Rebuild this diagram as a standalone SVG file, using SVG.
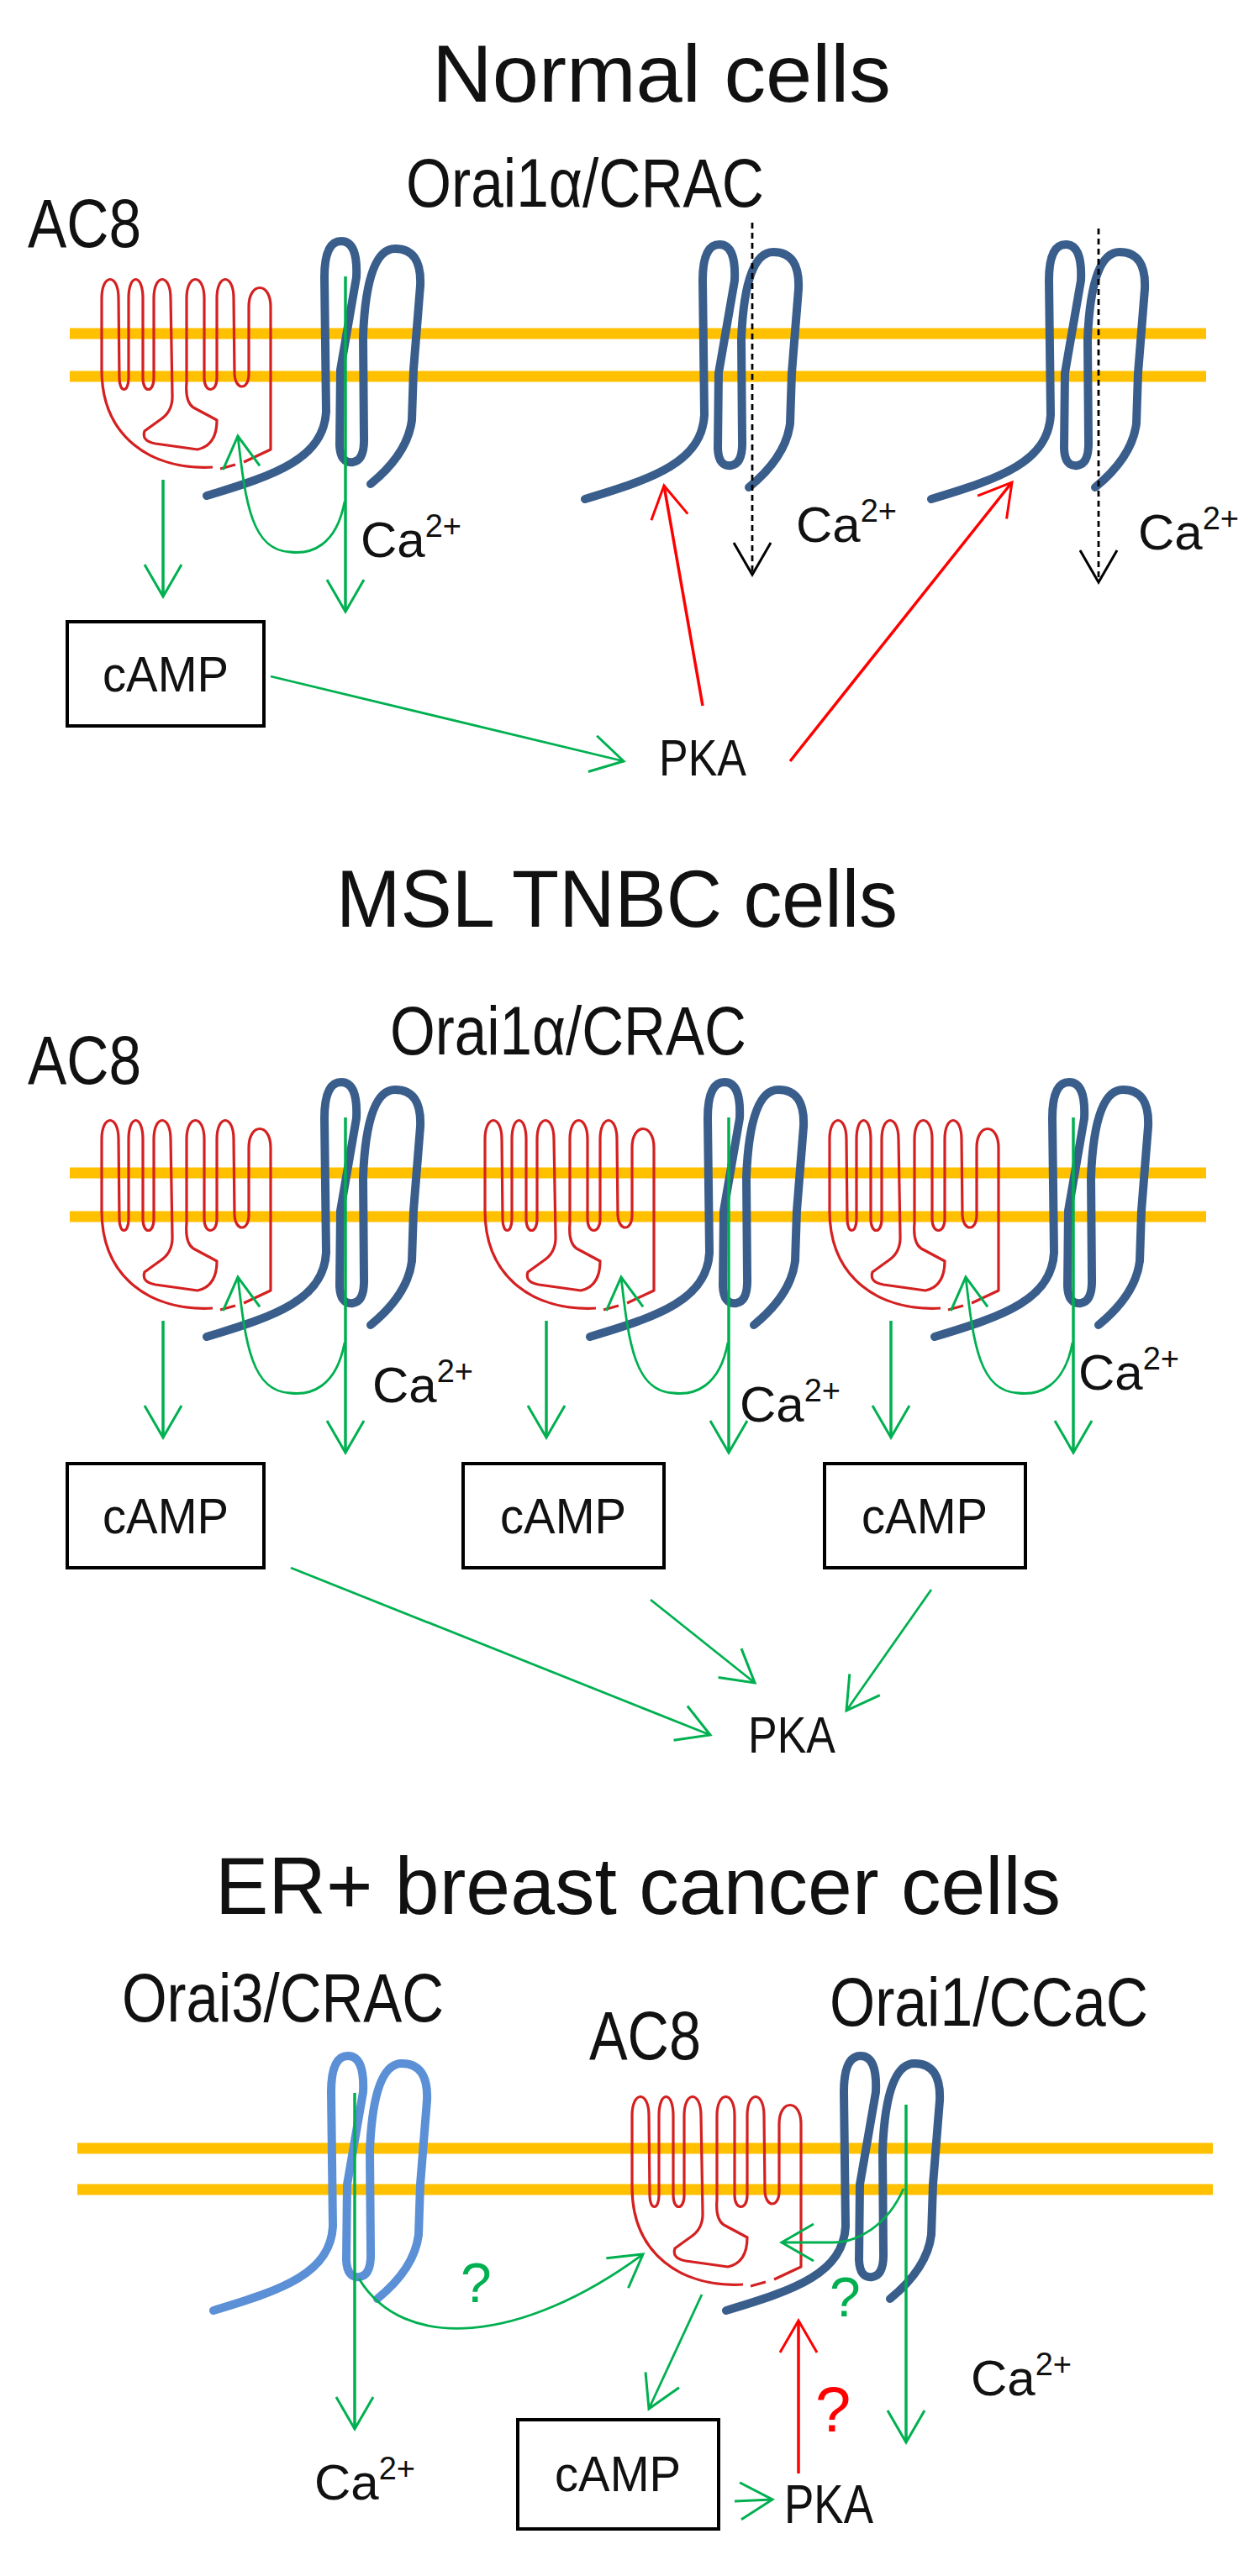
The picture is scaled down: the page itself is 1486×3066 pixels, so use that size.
<svg xmlns="http://www.w3.org/2000/svg" xmlns:xlink="http://www.w3.org/1999/xlink" width="1486" height="3066" viewBox="0 0 1486 3066">
<style>
.t{font-family:"Liberation Sans",Arial,sans-serif;fill:#111}
.title{font-size:96px}
.lab{font-size:82px}
.mem{stroke:#FFC000;stroke-width:13;fill:none}
.g{stroke:#00B050;stroke-width:3.5;fill:none}
.gt{stroke:#00B050;stroke-width:2.8;fill:none}
.r{stroke:#FF0000;stroke-width:3.5;fill:none}
.k{stroke:#000;stroke-width:2.8;fill:none;stroke-dasharray:7 5}
.box{fill:#fff;stroke:#000;stroke-width:4}
.ac8{stroke:#D42020;stroke-width:3.2;fill:none;stroke-linejoin:round}
.dk{stroke:#3A5E8C;stroke-width:10;fill:none;stroke-linecap:round;stroke-linejoin:round}
.lt{stroke:#5B8FD6;stroke-width:10;fill:none;stroke-linecap:round;stroke-linejoin:round}
</style>
<defs>
<marker id="ag" markerUnits="userSpaceOnUse" markerWidth="60" markerHeight="60" refX="0" refY="0" viewBox="-45 -30 50 60" orient="auto" overflow="visible"><path d="M-38,-22 L0,0 L-38,22" fill="none" stroke="#00B050" stroke-width="3"/></marker>
<marker id="ar" markerUnits="userSpaceOnUse" markerWidth="60" markerHeight="60" refX="0" refY="0" viewBox="-45 -30 50 60" orient="auto" overflow="visible"><path d="M-38,-22 L0,0 L-38,22" fill="none" stroke="#FF0000" stroke-width="3"/></marker>
<marker id="ak" markerUnits="userSpaceOnUse" markerWidth="60" markerHeight="60" refX="0" refY="0" viewBox="-45 -30 50 60" orient="auto" overflow="visible"><path d="M-38,-22 L0,0 L-38,22" fill="none" stroke="#000" stroke-width="3" stroke-dasharray="none"/></marker>
<path id="ac8" d="M253,556 C180,560 121,520 121,440 L121,355 C121,325 141,325 141,355 L142,450 C142,468 153,468 153,450 L153,355 C153,325 170,325 170,355 L170,450 C170,468 183,468 183,450 L183,355 C183,325 203,325 203,355 L205,470 Q206,490 190,500 L172,513 Q168,525 185,528 L235,535 Q258,530 258,500 L230,485 Q220,478 222,455 L222,355 C222,325 243,325 243,355 L243,450 C243,468 258,468 258,450 L258,355 C258,325 278,325 278,355 L279,445 C280,465 296,465 296,445 L296,365 C296,335 322,335 322,365 L322,535 L290,550 M280,553 L262,558"/>
<path id="orai" d="M246,590 C330,565 385,545 388,490 L386,330 Q386,287 406,287 Q426,287 424,330 L405,440 L404,530 Q405,552 420,550 Q434,548 433,520 L432,400 Q436,296 470,296 Q502,296 500,340 L492,440 L490,500 Q485,540 441,576"/>
<g id="greens">
<line class="g" x1="411" y1="329" x2="411" y2="728" marker-end="url(#ag)"/>
<line class="g" x1="194" y1="571" x2="194" y2="710" marker-end="url(#ag)"/>
<path class="gt" d="M410,597 C400,650 370,660 345,657 C300,655 292,600 283,519" marker-end="url(#ag)"/>
</g>
</defs>

<g id="membranes">
<line class="mem" x1="83" y1="397" x2="1435" y2="397"/><line class="mem" x1="83" y1="448" x2="1435" y2="448"/>
<line class="mem" x1="83" y1="1396" x2="1435" y2="1396"/><line class="mem" x1="83" y1="1448" x2="1435" y2="1448"/>
<line class="mem" x1="92" y1="2557" x2="1443" y2="2557"/><line class="mem" x1="92" y1="2606" x2="1443" y2="2606"/>
</g>

<g id="titles">
<text class="t title" x="514" y="121" textLength="546" lengthAdjust="spacingAndGlyphs">Normal cells</text>
<text class="t title" x="400" y="1103" textLength="668" lengthAdjust="spacingAndGlyphs">MSL TNBC cells</text>
<text class="t title" x="256" y="2278" textLength="1006" lengthAdjust="spacingAndGlyphs">ER+ breast cancer cells</text>
</g>

<!-- Section 1 -->
<g id="s1-ac8-label"><text class="t lab" x="33" y="294" textLength="135" lengthAdjust="spacingAndGlyphs">AC8</text></g>
<g id="s1-orai-label"><text class="t lab" x="483" y="246" textLength="426" lengthAdjust="spacingAndGlyphs">Orai1α/CRAC</text></g>
<g id="s1-unit1"><use href="#ac8" class="ac8"/><use href="#orai" class="dk"/><use href="#greens"/></g>
<g id="s1-ch2" transform="translate(450,4)"><use href="#orai" class="dk"/></g>
<g id="s1-ch3" transform="translate(862,4)"><use href="#orai" class="dk"/></g>
<g id="s1-camp"><rect class="box" x="80" y="740" width="234" height="124"/><text class="t" x="197" y="823" font-size="60" text-anchor="middle" textLength="150" lengthAdjust="spacingAndGlyphs">cAMP</text></g>
<g id="s1-pka"><text class="t" x="784" y="923" font-size="62" textLength="104" lengthAdjust="spacingAndGlyphs">PKA</text></g>
<g id="s1-ca">
<text class="t" x="429" y="663" font-size="60">Ca<tspan font-size="38" dy="-24">2+</tspan></text>
<text class="t" x="947" y="645" font-size="60">Ca<tspan font-size="38" dy="-24">2+</tspan></text>
<text class="t" x="1354" y="654" font-size="60">Ca<tspan font-size="38" dy="-24">2+</tspan></text>
</g>

<!-- Section 2 -->
<g id="s2-ac8-label"><text class="t lab" x="33" y="1290" textLength="135" lengthAdjust="spacingAndGlyphs">AC8</text></g>
<g id="s2-orai-label"><text class="t lab" x="464" y="1255" textLength="424" lengthAdjust="spacingAndGlyphs">Orai1α/CRAC</text></g>
<g id="s2-unit1" transform="translate(0,1001)"><use href="#ac8" class="ac8"/><use href="#orai" class="dk"/><use href="#greens"/></g>
<g id="s2-unit2" transform="translate(456,1001)"><use href="#ac8" class="ac8"/><use href="#orai" class="dk"/><use href="#greens"/></g>
<g id="s2-unit3" transform="translate(866,1001)"><use href="#ac8" class="ac8"/><use href="#orai" class="dk"/><use href="#greens"/></g>
<g id="s2-camp1"><rect class="box" x="80" y="1742" width="234" height="124"/><text class="t" x="197" y="1825" font-size="60" text-anchor="middle" textLength="150" lengthAdjust="spacingAndGlyphs">cAMP</text></g>
<g id="s2-camp2"><rect class="box" x="551" y="1742" width="239" height="124"/><text class="t" x="670" y="1825" font-size="60" text-anchor="middle" textLength="150" lengthAdjust="spacingAndGlyphs">cAMP</text></g>
<g id="s2-camp3"><rect class="box" x="981" y="1742" width="239" height="124"/><text class="t" x="1100" y="1825" font-size="60" text-anchor="middle" textLength="150" lengthAdjust="spacingAndGlyphs">cAMP</text></g>
<g id="s2-pka"><text class="t" x="890" y="2086" font-size="62" textLength="104" lengthAdjust="spacingAndGlyphs">PKA</text></g>
<g id="s2-ca">
<text class="t" x="443" y="1669" font-size="60">Ca<tspan font-size="38" dy="-24">2+</tspan></text>
<text class="t" x="880" y="1692" font-size="60">Ca<tspan font-size="38" dy="-24">2+</tspan></text>
<text class="t" x="1283" y="1654" font-size="60">Ca<tspan font-size="38" dy="-24">2+</tspan></text>
</g>

<!-- Section 3 -->
<g id="s3-orai3-label"><text class="t lab" x="145" y="2406" textLength="383" lengthAdjust="spacingAndGlyphs">Orai3/CRAC</text></g>
<g id="s3-ac8-label"><text class="t lab" x="701" y="2451" textLength="133" lengthAdjust="spacingAndGlyphs">AC8</text></g>
<g id="s3-orai1-label"><text class="t lab" x="987" y="2411" textLength="379" lengthAdjust="spacingAndGlyphs">Orai1/CCaC</text></g>
<g id="s3-orai3" transform="translate(8,2160)"><use href="#orai" class="lt"/></g>
<g id="s3-ac8" transform="translate(631,2163)"><use href="#ac8" class="ac8"/></g>
<g id="s3-orai1" transform="translate(618,2160)"><use href="#orai" class="dk"/></g>
<g id="s3-camp"><rect class="box" x="616" y="2880" width="239" height="130"/><text class="t" x="735" y="2965" font-size="60" text-anchor="middle" textLength="150" lengthAdjust="spacingAndGlyphs">cAMP</text></g>
<g id="s3-pka"><text class="t" x="933" y="3003" font-size="64" textLength="106" lengthAdjust="spacingAndGlyphs">PKA</text></g>
<g id="s3-ca">
<text class="t" x="374" y="2975" font-size="60">Ca<tspan font-size="38" dy="-24">2+</tspan></text>
<text class="t" x="1155" y="2851" font-size="60">Ca<tspan font-size="38" dy="-24">2+</tspan></text>
</g>
<g id="s3-q">
<text class="t" x="548" y="2740" font-size="66" style="fill:#00B050">?</text>
<text class="t" x="987" y="2757" font-size="66" style="fill:#00B050">?</text>
<text class="t" x="970" y="2894" font-size="76" style="fill:#FF0000">?</text>
</g>

<g id="connectors">
<line class="gt" x1="322" y1="805" x2="742" y2="906" marker-end="url(#ag)"/>
<line class="r" x1="836" y1="840" x2="790" y2="578" marker-end="url(#ar)"/>
<line class="r" x1="940" y1="906" x2="1204" y2="574" marker-end="url(#ar)"/>
<line class="k" x1="895" y1="265" x2="895" y2="684" marker-end="url(#ak)"/>
<line class="k" x1="1307" y1="272" x2="1307" y2="693" marker-end="url(#ak)"/>
<line class="gt" x1="346" y1="1866" x2="845" y2="2065" marker-end="url(#ag)"/>
<line class="gt" x1="774" y1="1904" x2="898" y2="2003" marker-end="url(#ag)"/>
<line class="gt" x1="1108" y1="1892" x2="1007" y2="2036" marker-end="url(#ag)"/>
<line class="g" x1="422" y1="2491" x2="422" y2="2891" marker-end="url(#ag)"/>
<path class="gt" d="M427,2712 C480,2800 620,2790 765,2683" marker-end="url(#ag)"/>
<line class="g" x1="1078" y1="2505" x2="1078" y2="2907" marker-end="url(#ag)"/>
<path class="gt" d="M1075,2605 C1055,2650 1020,2669 990,2669 L930,2669" marker-end="url(#ag)"/>
<line class="gt" x1="835" y1="2731" x2="772" y2="2867" marker-end="url(#ag)"/>
<line class="gt" x1="874" y1="2977" x2="919" y2="2975" marker-end="url(#ag)"/>
<line class="r" x1="950" y1="2944" x2="950" y2="2762" marker-end="url(#ar)"/>
</g>
</svg>
